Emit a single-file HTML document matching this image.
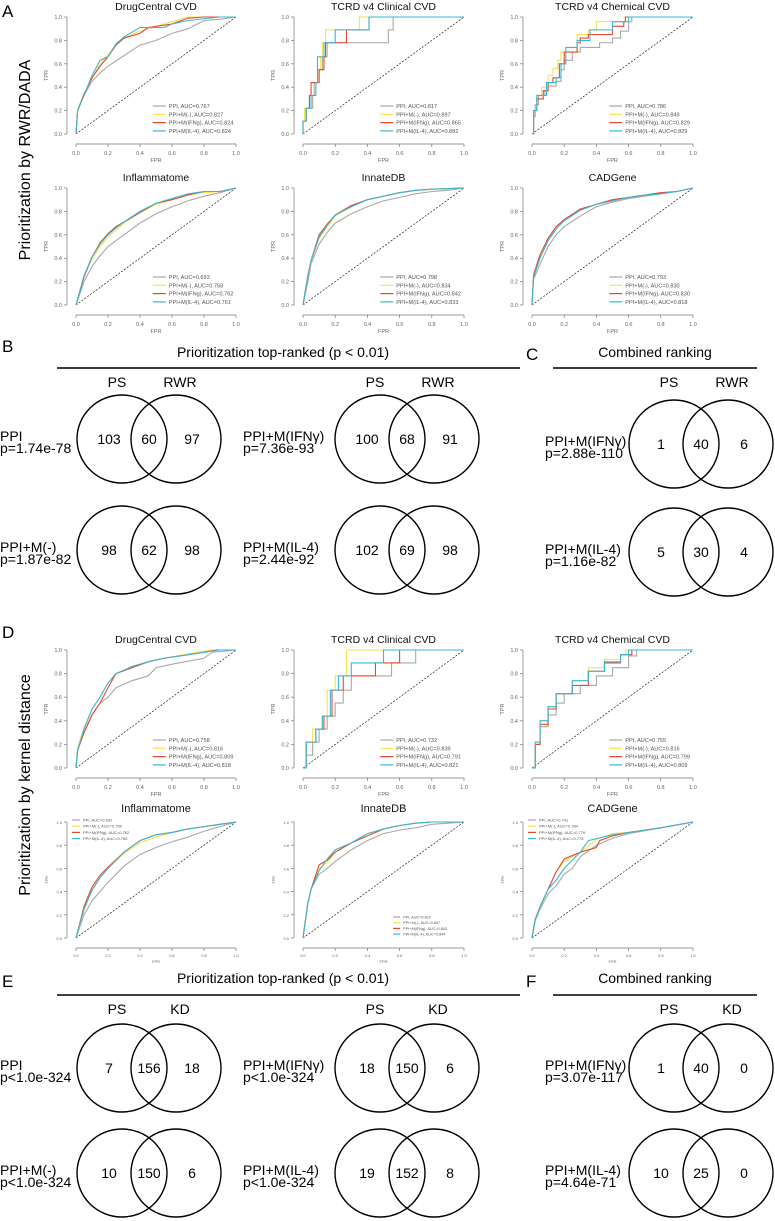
<!DOCTYPE html>
<html><head><meta charset="utf-8"><style>
html,body{margin:0;padding:0;background:#fff;}
svg{display:block;font-family:"Liberation Sans",sans-serif;}
</style></head><body>
<svg id="fig" width="775" height="1221" viewBox="0 0 775 1221" xmlns="http://www.w3.org/2000/svg">
<g id="rocs"></g>
<g font-size="17" fill="#000">
<text x="2" y="17">A</text>
<text x="2" y="352">B</text>
<text x="526" y="360">C</text>
<text x="2" y="638">D</text>
<text x="2" y="987">E</text>
<text x="526" y="987">F</text>
</g>
<text transform="translate(30,160) rotate(-90)" text-anchor="middle" font-size="16">Prioritization by RWR/DADA</text>
<text transform="translate(30,785) rotate(-90)" text-anchor="middle" font-size="16">Prioritization by kernel distance</text>
<g id="venns"></g>
</svg>
<script>
const NS="http://www.w3.org/2000/svg";
// ROC data: [FPR, TPR] pairs
const A1_ppi=[[0,0],[0.01,0.2],[0.05,0.33],[0.1,0.45],[0.15,0.52],[0.2,0.58],[0.3,0.67],[0.4,0.76],[0.5,0.8],[0.6,0.86],[0.7,0.9],[0.8,0.97],[0.9,0.98],[1,1]];
const A1_m=[[0,0],[0.01,0.2],[0.05,0.35],[0.1,0.47],[0.15,0.6],[0.2,0.68],[0.25,0.76],[0.3,0.82],[0.4,0.88],[0.5,0.92],[0.6,0.96],[0.7,1],[1,1]];
const A1_ifn=[[0,0],[0.01,0.2],[0.05,0.34],[0.1,0.48],[0.15,0.58],[0.2,0.66],[0.25,0.76],[0.3,0.82],[0.4,0.86],[0.45,0.91],[0.6,0.94],[0.7,0.99],[0.8,1],[1,1]];
const A1_il4=[[0,0],[0.01,0.2],[0.05,0.33],[0.1,0.5],[0.15,0.63],[0.2,0.66],[0.25,0.77],[0.3,0.83],[0.4,0.91],[0.55,0.91],[0.6,0.94],[0.7,0.97],[0.9,1],[1,1]];
const A2_ppi=[[0,0.11],[0.02,0.22],[0.06,0.33],[0.07,0.44],[0.1,0.55],[0.12,0.66],[0.15,0.78],[0.53,0.89],[0.56,1],[1,1]];
const A2_m=[[0,0.11],[0.01,0.22],[0.04,0.33],[0.05,0.44],[0.09,0.55],[0.11,0.66],[0.12,0.78],[0.14,0.89],[0.35,1],[1,1]];
const A2_ifn=[[0,0.11],[0.02,0.22],[0.04,0.33],[0.05,0.44],[0.1,0.55],[0.13,0.66],[0.14,0.78],[0.27,0.89],[0.41,1],[1,1]];
const A2_il4=[[0,0.11],[0.02,0.22],[0.05,0.33],[0.08,0.44],[0.09,0.55],[0.09,0.66],[0.13,0.78],[0.2,0.89],[0.41,1],[1,1]];
const A3_ppi=[[0.01,0.15],[0.02,0.25],[0.04,0.33],[0.08,0.37],[0.1,0.41],[0.15,0.45],[0.18,0.55],[0.2,0.63],[0.25,0.7],[0.3,0.74],[0.4,0.74],[0.42,0.78],[0.5,0.82],[0.55,0.88],[0.6,0.96],[0.62,1],[1,1]];
const A3_m=[[0.01,0.2],[0.03,0.33],[0.06,0.4],[0.1,0.5],[0.13,0.56],[0.16,0.63],[0.18,0.7],[0.28,0.85],[0.35,0.89],[0.4,0.96],[0.58,1],[1,1]];
const A3_ifn=[[0.01,0.2],[0.03,0.3],[0.07,0.37],[0.1,0.44],[0.13,0.48],[0.17,0.6],[0.2,0.7],[0.28,0.78],[0.3,0.82],[0.35,0.85],[0.5,0.92],[0.57,0.96],[0.58,1],[1,1]];
const A3_il4=[[0.01,0.2],[0.03,0.33],[0.09,0.44],[0.15,0.48],[0.18,0.6],[0.21,0.74],[0.28,0.8],[0.36,0.89],[0.5,0.96],[0.6,1],[1,1]];
const A4_ppi=[[0,0],[0.05,0.2],[0.1,0.33],[0.15,0.42],[0.2,0.5],[0.3,0.6],[0.4,0.7],[0.5,0.78],[0.6,0.84],[0.7,0.89],[0.8,0.93],[0.9,0.96],[1,1]];
const A4_m=[[0,0],[0.05,0.25],[0.1,0.39],[0.15,0.5],[0.2,0.58],[0.3,0.7],[0.4,0.79],[0.5,0.86],[0.6,0.9],[0.7,0.94],[0.8,0.96],[0.9,0.97],[1,1]];
const A4_ifn=[[0,0],[0.05,0.24],[0.1,0.41],[0.15,0.53],[0.2,0.61],[0.25,0.67],[0.3,0.71],[0.4,0.79],[0.5,0.87],[0.6,0.9],[0.7,0.94],[0.8,0.97],[0.9,0.97],[1,1]];
const A4_il4=[[0,0],[0.05,0.25],[0.1,0.41],[0.15,0.52],[0.2,0.6],[0.25,0.66],[0.3,0.71],[0.4,0.8],[0.5,0.87],[0.6,0.91],[0.7,0.95],[0.8,0.97],[0.9,0.97],[1,1]];
const A5_ppi=[[0,0],[0.03,0.2],[0.05,0.35],[0.1,0.52],[0.15,0.62],[0.2,0.7],[0.3,0.78],[0.4,0.84],[0.5,0.89],[0.6,0.92],[0.7,0.95],[0.8,0.97],[0.9,0.98],[1,1]];
const A5_m=[[0,0],[0.03,0.24],[0.05,0.37],[0.1,0.57],[0.15,0.67],[0.2,0.76],[0.3,0.84],[0.4,0.9],[0.5,0.93],[0.6,0.96],[0.7,0.98],[0.8,0.99],[1,1]];
const A5_ifn=[[0,0],[0.03,0.25],[0.05,0.38],[0.1,0.6],[0.15,0.69],[0.2,0.77],[0.3,0.85],[0.4,0.9],[0.5,0.93],[0.6,0.96],[0.7,0.98],[0.8,0.99],[1,1]];
const A5_il4=[[0,0],[0.03,0.25],[0.05,0.38],[0.1,0.58],[0.15,0.68],[0.2,0.77],[0.3,0.84],[0.4,0.9],[0.5,0.93],[0.6,0.96],[0.7,0.98],[0.8,0.99],[1,1]];
const A6_ppi=[[0,0],[0.01,0.22],[0.05,0.35],[0.1,0.5],[0.15,0.6],[0.2,0.67],[0.3,0.76],[0.4,0.84],[0.5,0.88],[0.6,0.91],[0.7,0.93],[0.8,0.95],[0.9,0.97],[1,1]];
const A6_m=[[0,0],[0.01,0.25],[0.05,0.42],[0.1,0.56],[0.15,0.66],[0.2,0.72],[0.3,0.82],[0.4,0.86],[0.5,0.9],[0.6,0.92],[0.7,0.94],[0.8,0.96],[0.9,0.97],[1,1]];
const A6_ifn=[[0,0],[0.01,0.26],[0.05,0.43],[0.1,0.57],[0.15,0.67],[0.2,0.73],[0.3,0.82],[0.4,0.86],[0.5,0.9],[0.6,0.92],[0.7,0.94],[0.8,0.96],[0.9,0.97],[1,1]];
const A6_il4=[[0,0],[0.01,0.24],[0.05,0.4],[0.1,0.55],[0.15,0.65],[0.2,0.72],[0.3,0.81],[0.4,0.86],[0.5,0.89],[0.6,0.92],[0.7,0.94],[0.8,0.95],[0.9,0.97],[1,1]];
const D1_ppi=[[0,0],[0.01,0.15],[0.05,0.3],[0.1,0.45],[0.15,0.55],[0.2,0.6],[0.25,0.68],[0.35,0.74],[0.45,0.78],[0.5,0.85],[0.6,0.88],[0.8,0.93],[0.85,0.98],[1,1]];
const D1_m=[[0,0],[0.01,0.17],[0.05,0.34],[0.1,0.5],[0.15,0.6],[0.2,0.72],[0.25,0.8],[0.35,0.86],[0.45,0.9],[0.55,0.93],[0.75,0.98],[0.85,1],[1,1]];
const D1_ifn=[[0,0],[0.01,0.15],[0.05,0.3],[0.1,0.45],[0.15,0.55],[0.2,0.68],[0.25,0.8],[0.35,0.85],[0.45,0.9],[0.55,0.93],[0.75,0.97],[0.88,1],[1,1]];
const D1_il4=[[0,0],[0.01,0.15],[0.05,0.33],[0.1,0.5],[0.15,0.6],[0.2,0.72],[0.25,0.8],[0.35,0.86],[0.45,0.9],[0.55,0.93],[0.75,0.97],[0.9,1],[1,1]];
const D2_ppi=[[0.02,0.11],[0.06,0.22],[0.1,0.33],[0.15,0.44],[0.2,0.55],[0.25,0.66],[0.3,0.78],[0.55,0.89],[0.7,1],[1,1]];
const D2_m=[[0.02,0.22],[0.06,0.33],[0.12,0.44],[0.15,0.66],[0.2,0.78],[0.27,1],[1,1]];
const D2_ifn=[[0.02,0.22],[0.08,0.33],[0.13,0.44],[0.18,0.66],[0.25,0.78],[0.45,0.89],[0.6,1],[1,1]];
const D2_il4=[[0.02,0.22],[0.08,0.33],[0.12,0.44],[0.17,0.66],[0.22,0.78],[0.3,0.89],[0.5,1],[1,1]];
const D3_ppi=[[0.02,0.2],[0.05,0.35],[0.1,0.45],[0.15,0.55],[0.2,0.63],[0.3,0.7],[0.4,0.78],[0.5,0.85],[0.6,0.95],[0.65,1],[1,1]];
const D3_m=[[0.02,0.22],[0.05,0.4],[0.1,0.52],[0.15,0.63],[0.25,0.74],[0.35,0.85],[0.45,0.92],[0.55,0.96],[0.58,1],[1,1]];
const D3_ifn=[[0.02,0.2],[0.05,0.37],[0.1,0.5],[0.15,0.63],[0.25,0.7],[0.35,0.82],[0.45,0.89],[0.55,0.96],[0.62,1],[1,1]];
const D3_il4=[[0.02,0.22],[0.05,0.4],[0.1,0.52],[0.15,0.63],[0.25,0.74],[0.35,0.82],[0.45,0.9],[0.55,0.96],[0.6,1],[1,1]];
const D4_ppi=[[0,0],[0.05,0.2],[0.1,0.32],[0.15,0.4],[0.2,0.48],[0.3,0.62],[0.4,0.72],[0.5,0.78],[0.6,0.83],[0.7,0.87],[0.8,0.92],[0.9,0.96],[1,1]];
const D4_m=[[0,0],[0.05,0.24],[0.1,0.42],[0.15,0.52],[0.2,0.6],[0.3,0.73],[0.4,0.82],[0.5,0.87],[0.6,0.91],[0.7,0.94],[0.8,0.96],[0.9,0.98],[1,1]];
const D4_ifn=[[0,0],[0.05,0.27],[0.1,0.44],[0.15,0.54],[0.2,0.61],[0.3,0.74],[0.4,0.84],[0.5,0.89],[0.6,0.91],[0.7,0.94],[0.8,0.96],[0.9,0.98],[1,1]];
const D4_il4=[[0,0],[0.05,0.25],[0.1,0.41],[0.15,0.52],[0.2,0.6],[0.3,0.74],[0.4,0.84],[0.5,0.89],[0.6,0.91],[0.7,0.94],[0.8,0.96],[0.9,0.98],[1,1]];
const D5_ppi=[[0,0],[0.03,0.3],[0.05,0.42],[0.1,0.55],[0.15,0.6],[0.2,0.66],[0.3,0.76],[0.4,0.84],[0.5,0.9],[0.6,0.93],[0.7,0.95],[0.8,0.98],[0.9,0.99],[1,1]];
const D5_m=[[0,0],[0.03,0.3],[0.05,0.42],[0.1,0.6],[0.15,0.65],[0.2,0.74],[0.3,0.82],[0.4,0.9],[0.5,0.94],[0.6,0.97],[0.7,0.99],[0.8,1],[1,1]];
const D5_ifn=[[0,0],[0.03,0.3],[0.05,0.42],[0.1,0.63],[0.15,0.67],[0.2,0.74],[0.3,0.82],[0.4,0.88],[0.5,0.94],[0.6,0.97],[0.7,0.99],[0.8,1],[1,1]];
const D5_il4=[[0,0],[0.03,0.3],[0.05,0.42],[0.1,0.58],[0.15,0.68],[0.2,0.76],[0.3,0.82],[0.4,0.9],[0.5,0.94],[0.6,0.97],[0.7,0.99],[0.8,1],[1,1]];
const D6_ppi=[[0,0],[0.02,0.15],[0.05,0.25],[0.1,0.38],[0.15,0.45],[0.2,0.55],[0.25,0.6],[0.3,0.7],[0.4,0.8],[0.5,0.86],[0.6,0.9],[0.8,0.95],[1,1]];
const D6_m=[[0,0],[0.02,0.16],[0.05,0.27],[0.1,0.42],[0.15,0.57],[0.2,0.66],[0.3,0.74],[0.4,0.85],[0.5,0.9],[0.6,0.91],[0.8,0.95],[1,1]];
const D6_ifn=[[0,0],[0.02,0.16],[0.05,0.27],[0.1,0.42],[0.15,0.57],[0.2,0.68],[0.3,0.74],[0.4,0.78],[0.42,0.84],[0.5,0.88],[0.6,0.91],[0.8,0.95],[1,1]];
const D6_il4=[[0,0],[0.02,0.16],[0.05,0.27],[0.1,0.42],[0.15,0.5],[0.2,0.6],[0.3,0.74],[0.35,0.84],[0.5,0.89],[0.6,0.91],[0.8,0.95],[1,1]];

const panelTitles=["DrugCentral CVD","TCRD v4 Clinical CVD","TCRD v4 Chemical CVD","Inflammatome","InnateDB","CADGene","DrugCentral CVD","TCRD v4 Clinical CVD","TCRD v4 Chemical CVD","Inflammatome","InnateDB","CADGene"];
const aucPPI=["0.767","0.817","0.786","0.693","0.798","0.793","0.758","0.732","0.755","0.692","0.810","0.741"];
const aucM=["0.827","0.897","0.849","0.758","0.834","0.830","0.816","0.839","0.816","0.755","0.847","0.784"];
const aucIFN=["0.824","0.865","0.829","0.762","0.842","0.830","0.809","0.791","0.799","0.762","0.843","0.776"];
const aucIL4=["0.824","0.882","0.829","0.761","0.833","0.818","0.818","0.821","0.809","0.766","0.844","0.775"];
const curveSets=[[A1_ppi,A1_m,A1_ifn,A1_il4],[A2_ppi,A2_m,A2_ifn,A2_il4],[A3_ppi,A3_m,A3_ifn,A3_il4],[A4_ppi,A4_m,A4_ifn,A4_il4],[A5_ppi,A5_m,A5_ifn,A5_il4],[A6_ppi,A6_m,A6_ifn,A6_il4],[D1_ppi,D1_m,D1_ifn,D1_il4],[D2_ppi,D2_m,D2_ifn,D2_il4],[D3_ppi,D3_m,D3_ifn,D3_il4],[D4_ppi,D4_m,D4_ifn,D4_il4],[D5_ppi,D5_m,D5_ifn,D5_il4],[D6_ppi,D6_m,D6_ifn,D6_il4]];
const ticks=[0,0.2,0.4,0.6,0.8,1.0];

const colors=["#a8a8a8","#f7e34a","#e8472e","#35b9d9"];
const legPre=["PPI, AUC=","PPI+M(-), AUC=","PPI+M(IFNg), AUC=","PPI+M(IL-4), AUC="];
const colX=[[76,236],[303,464],[532,693]];
const rowY=[[17,134],[188,305],[650,768],[822,938]];
const stepPanels=[1,2,7,8];

function mk(tag,attrs,parent){const e=document.createElementNS(NS,tag);for(const k in attrs)e.setAttribute(k,attrs[k]);parent.appendChild(e);return e;}
const root=document.getElementById('rocs');
curveSets.forEach((set,i)=>{
  const c=colX[i%3], r=rowY[Math.floor(i/3)];
  const X=v=>c[0]+v*(c[1]-c[0]), Y=v=>r[1]-v*(r[1]-r[0]);
  const g=mk('g',{},root);
  
  
  const tiny=(i>=9);
  const t=mk('text',{x:(c[0]+c[1])/2,y:r[0]-(i>=9?10:7),'text-anchor':'middle','font-size':i>=9?11:10.5,fill:'#111'},g);
  t.textContent=panelTitles[i];
  
  
  const ax=mk('g',{stroke:'#777','stroke-width':0.7,fill:'none'},g);
  
  
  const yl=c[0]-9, xl=r[1]+10;
  mk('line',{x1:yl,x2:yl,y1:Y(0),y2:Y(1)},ax);
  mk('line',{x1:X(0),x2:X(1),y1:xl,y2:xl},ax);
  const lab=mk('g',{fill:'#666','font-size':tiny?4:5.5},g);
  
  
  ticks.forEach(v=>{
    mk('line',{x1:yl,x2:yl-3,y1:Y(v),y2:Y(v)},ax);
    mk('line',{x1:X(v),x2:X(v),y1:xl,y2:xl+3},ax);
    const ty=mk('text',{x:yl-5,y:Y(v)+2,'text-anchor':'end'},lab);ty.textContent=v.toFixed(1);
    const tx=mk('text',{x:X(v),y:xl+(tiny?9:11),'text-anchor':'middle'},lab);tx.textContent=v.toFixed(1);
  });
  const ft=mk('text',{x:(c[0]+c[1])/2,y:xl+(tiny?15:18),'text-anchor':'middle'},lab);ft.textContent='FPR';
  const tt=mk('text',{transform:`translate(${c[0]-28},${(r[0]+r[1])/2}) rotate(-90)`,'text-anchor':'middle'},lab);tt.textContent='TPR';
  const dg=mk('line',{x1:X(0),y1:Y(0),x2:X(1),y2:Y(1),stroke:'#222','stroke-width':0.7,'stroke-dasharray':'2,1.5'},g);
  
  
  const step=stepPanels.includes(i);
  set.forEach((pts,k)=>{
    let d='M'+X(0)+','+Y(0);
    let py=Y(0);
    pts.forEach(p=>{ if(step){d+=' L'+X(p[0])+','+py;} py=Y(p[1]); d+=' L'+X(p[0])+','+py; });
    const pa=mk('path',{d:d,fill:'none',stroke:colors[k],'stroke-width':1.1},g);
    
    
  });
  const aucs=[aucPPI[i],aucM[i],aucIFN[i],aucIL4[i]];
  const lg=mk('g',{},g);
  
  
  let lx,ly,dy,len,fs;
  if(i===9||i===11){lx=c[0]-4;ly=r[0]-2;dy=6.2;len=8;fs=4;}
  else if(i===10){lx=X(0.56);ly=r[1]-21;dy=5.7;len=7;fs=3.8;}
  else {lx=X(0.48);ly=r[1]-28;dy=8.3;len=13;fs=5.6;}
  aucs.forEach((a,k)=>{
    mk('line',{x1:lx,x2:lx+len,y1:ly+k*dy,y2:ly+k*dy,stroke:colors[k],'stroke-width':1.2},lg);
    const lt=mk('text',{x:lx+len+3,y:ly+k*dy+fs*0.36,'font-size':fs,fill:'#555'},lg);
    lt.textContent=legPre[k]+a;
    
    
  });
});

// Venn data
const vennNames=["PPI","PPI+M(-)","PPI+M(IFNγ)","PPI+M(IL-4)","PPI+M(IFNγ)","PPI+M(IL-4)","PPI","PPI+M(-)","PPI+M(IFNγ)","PPI+M(IL-4)","PPI+M(IFNγ)","PPI+M(IL-4)"];
const vennP=["p=1.74e-78","p=1.87e-82","p=7.36e-93","p=2.44e-92","p=2.88e-110","p=1.16e-82","p<1.0e-324","p<1.0e-324","p<1.0e-324","p<1.0e-324","p=3.07e-117","p=4.64e-71"];
const vennLeft=[103,98,100,102,1,5,7,10,18,19,1,10];
const vennMid=[60,62,68,69,40,30,156,150,150,152,40,25];
const vennRight=[97,98,91,98,6,4,18,6,6,8,0,0];
const vennCX=[122,122,380,380,674,674,122,122,380,380,674,674];
const vennCY=[439,550,439,550,444,552,1068,1173,1068,1173,1068,1173];
const vg=document.getElementById('venns');
function txt(x,y,s,attrs,name){const e=mk('text',Object.assign({x:x,y:y,'font-size':14,fill:'#000'},attrs||{}),vg);e.textContent=s;return e;}
vennCX.forEach((cx,i)=>{
  const cy=vennCY[i];
  const g=mk('g',{fill:'none',stroke:'#000','stroke-width':1.4},vg);
  
  
  mk('ellipse',{cx:cx,cy:cy,rx:45,ry:44},g);
  mk('ellipse',{cx:cx+54,cy:cy,rx:45,ry:44},g);
  txt(cx-13,cy+5,String(vennLeft[i]),{'text-anchor':'middle'},'venn-count-left');
  txt(cx+27,cy+5,String(vennMid[i]),{'text-anchor':'middle'},'venn-count-overlap');
  txt(cx+70,cy+5,String(vennRight[i]),{'text-anchor':'middle'},'venn-count-right');
  const col=Math.floor((i%6)/2);
  let tx;
  if(col===0) tx=0; else if(col===1) tx=243; else tx=545;
  txt(tx,cy+2,vennNames[i],{},'venn-set-label');
  txt(tx,cy+14,vennP[i],{},'venn-p-value');
});
const hdrY=[357,983], lineY=[368,995], right=["RWR","KD"];
[0,1].forEach(j=>{
  txt(283,hdrY[j],"Prioritization top-ranked (p < 0.01)",{'text-anchor':'middle'},'section-header');
  txt(655,hdrY[j],"Combined ranking",{'text-anchor':'middle'},'section-header');
  const l1=mk('line',{x1:57,x2:520,y1:lineY[j],y2:lineY[j],stroke:'#000','stroke-width':1.5},vg);
  
  
  const l2=mk('line',{x1:553,x2:757,y1:lineY[j],y2:lineY[j],stroke:'#000','stroke-width':1.5},vg);
  
  
  [122,380,674].forEach(cx=>{
    txt(cx-5,lineY[j]+19,"PS",{'text-anchor':'middle'},'venn-set-name');
    txt(cx+58,lineY[j]+19,right[j],{'text-anchor':'middle'},'venn-set-name');
  });
});
</script>
</body></html>
